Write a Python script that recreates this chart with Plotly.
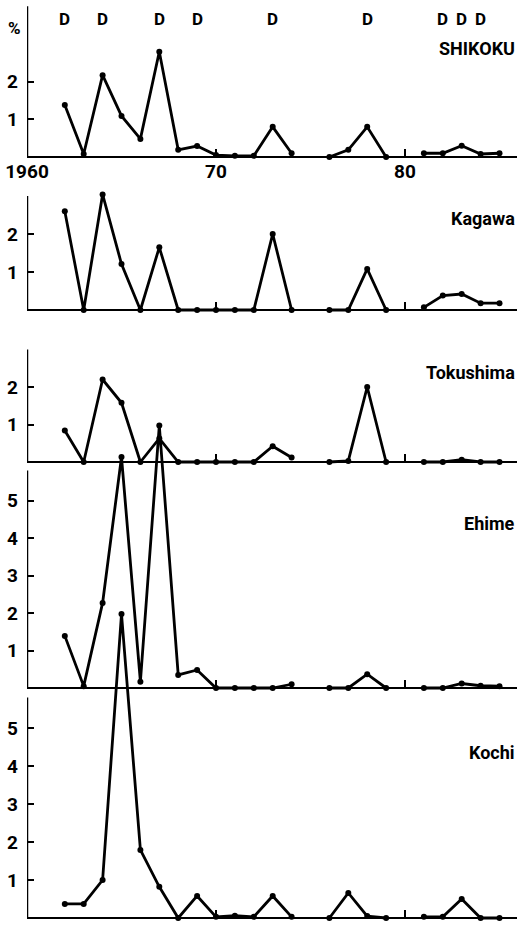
import plotly.graph_objects as go

# ---------------- data ----------------
years = list(range(1962, 1986))
shikoku = [1.38, 0.08, 2.17, 1.09, 0.48, 2.79, 0.19, 0.29, 0.05, 0.03, 0.03, 0.80,
           0.10, None, 0.00, 0.19, 0.80, 0.00, None, 0.10, 0.10, 0.30, 0.08, 0.10]
kagawa = [2.60, 0.00, 3.04, 1.21, 0.00, 1.65, 0.00, 0.00, 0.00, 0.00, 0.00, 2.00,
          0.00, None, 0.00, 0.00, 1.08, 0.00, None, 0.07, 0.38, 0.42, 0.18, 0.18]
tokushima = [0.84, 0.00, 2.20, 1.58, 0.00, 0.63, 0.00, 0.00, 0.00, 0.00, 0.00, 0.42,
             0.12, None, 0.00, 0.03, 2.00, 0.00, None, 0.00, 0.00, 0.06, 0.00, 0.00]
ehime = [1.39, 0.05, 2.27, 6.16, 0.17, 7.00, 0.35, 0.48, 0.00, 0.00, 0.00, 0.00,
         0.10, None, 0.00, 0.00, 0.37, 0.00, None, 0.00, 0.00, 0.12, 0.06, 0.05]
kochi = [0.37, 0.37, 1.00, 8.00, 1.79, 0.82, 0.00, 0.58, 0.03, 0.06, 0.03, 0.58,
         0.03, None, 0.00, 0.66, 0.05, 0.00, None, 0.03, 0.03, 0.50, 0.00, 0.00]

panel_names = ["SHIKOKU", "Kagawa", "Tokushima", "Ehime", "Kochi"]
y_tickvals = [[1, 2], [1, 2], [1, 2], [1, 2, 3, 4, 5], [1, 2, 3, 4, 5]]
axis_tops = [4.0, 3.0, 3.0, 5.8, 5.8]
d_years = [1962, 1964, 1967, 1969, 1973, 1978, 1982, 1983, 1984]
x_tickvals = [1960, 1970, 1980]
x_ticktext = ["1960", "70", "80"]

series = [shikoku, kagawa, tokushima, ehime, kochi]

# ---------------- geometry (pixels) ----------------
W, H = 517, 925
ML = 27
PX_PER_YEAR = 18.9
baselines = [157, 310, 462, 688, 918]
units = [37.7, 38.0, 37.5, 37.5, 38.0]
label_px_y = [48, 218, 372, 523, 752]

FONT = "Roboto, Liberation Sans, sans-serif"
x_range = [1960, 1960 + (W - ML) / PX_PER_YEAR]

fig = go.Figure()
layout = dict(
    width=W, height=H,
    margin=dict(l=ML, r=0, t=0, b=0),
    paper_bgcolor="white", plot_bgcolor="white",
    showlegend=False,
)

shapes = []
annotations = []
for i, (name, vals) in enumerate(zip(panel_names, series)):
    k = "" if i == 0 else str(i + 1)
    b, u = baselines[i], units[i]
    fig.add_trace(go.Scatter(
        x=years, y=vals, xaxis="x" + k, yaxis="y" + k,
        mode="lines+markers", connectgaps=False, cliponaxis=False,
        line=dict(color="black", width=2.8),
        marker=dict(color="black", size=6),
        hoverinfo="skip",
    ))
    xa = dict(
        range=x_range, anchor="free", position=1 - b / H,
        showline=True, linecolor="black", linewidth=2,
        showgrid=False, zeroline=False,
        ticks="inside", ticklen=7, tickwidth=2, tickcolor="black",
        tickvals=x_tickvals if i == 0 else x_tickvals[1:],
        ticktext=x_ticktext if i == 0 else x_ticktext[1:],
        showticklabels=(i == 0),
        tickfont=dict(family=FONT, size=19, color="black", weight="bold"),
        ticklabelstandoff=-3,
        fixedrange=True,
    )
    ya = dict(
        range=[-(H - b) / u, b / u], anchor="free", position=0,
        showline=False, showgrid=False, zeroline=False,
        ticks="inside", ticklen=6, tickwidth=2, tickcolor="black",
        tickvals=y_tickvals[i],
        tickfont=dict(family=FONT, size=19, color="black", weight="bold"),
        ticklabelstandoff=9,
        fixedrange=True,
    )
    if i > 0:
        xa["overlaying"] = "x"
        ya["overlaying"] = "y"
    layout["xaxis" + k] = xa
    layout["yaxis" + k] = ya
    shapes.append(dict(
        type="line", xref="x" + k, yref="y" + k,
        x0=1960, x1=1960, y0=0, y1=axis_tops[i],
        line=dict(color="black", width=2.5),
    ))
    annotations.append(dict(
        text=name, xref="paper", yref="paper",
        x=1.0, y=1 - label_px_y[i] / H, xanchor="right", yanchor="middle",
        showarrow=False,
        font=dict(family=FONT, size=18, color="black", weight="bold"),
    ))

for yr in d_years:
    annotations.append(dict(
        text="D", xref="x", yref="paper", x=yr, y=1 - 19 / H,
        xanchor="center", yanchor="middle", showarrow=False,
        font=dict(family=FONT, size=17, color="black", weight="bold"),
    ))

annotations.append(dict(
    text="%", xref="paper", yref="paper", x=-13 / (W - ML), y=1 - 28 / H,
    xanchor="center", yanchor="middle", showarrow=False,
    font=dict(family=FONT, size=17, color="black", weight="bold"),
))

layout["shapes"] = shapes
layout["annotations"] = annotations
fig.update_layout(**layout)
fig.write_html("out.html")
